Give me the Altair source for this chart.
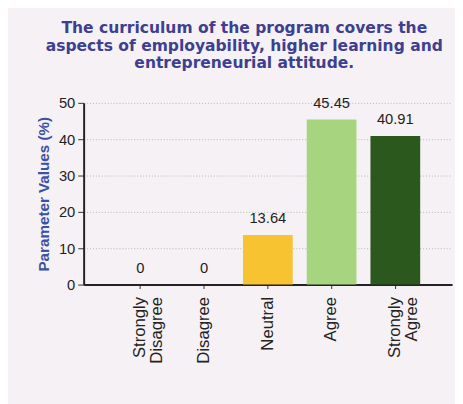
import altair as alt
import pandas as pd

categories = ["Strongly Disagree", "Disagree", "Neutral", "Agree", "Strongly Agree"]
values = [0, 0, 13.64, 45.45, 40.91]
bar_colors = ["#f5c330", "#f5c330", "#f7c331", "#a7d47e", "#2b581d"]
y_ticks = [0, 10, 20, 30, 40, 50]
title_lines = [
    "The curriculum of the program covers the",
    "aspects of employability, higher learning and",
    "entrepreneurial attitude.",
]

df = pd.DataFrame({"cat": categories, "value": values})

x_enc = alt.X(
    "cat:N",
    sort=categories,
    title=None,
    scale=alt.Scale(paddingInner=0.22, paddingOuter=0.5),
    axis=alt.Axis(
        labelAngle=-90,
        labelAlign="right",
        labelBaseline="middle",
        labelExpr="split(datum.label, ' ')",
        labelFont="Liberation Sans",
        labelFontSize=17,
        labelLineHeight=17,
        labelColor="#222222",
        labelPadding=8,
        tickSize=4,
        tickColor="#333333",
        domainColor="#222222",
        domainWidth=2,
        grid=False,
    ),
)
y_enc = alt.Y(
    "value:Q",
    scale=alt.Scale(domain=[0, 50]),
    title="Parameter Values (%)",
    axis=alt.Axis(
        values=y_ticks,
        labelFont="Liberation Sans",
        labelFontSize=15,
        labelColor="#1e1e1e",
        labelPadding=3,
        tickSize=6,
        tickColor="#333333",
        domainColor="#222222",
        domainWidth=2,
        grid=True,
        gridColor="#b8b4b8",
        gridDash=[1, 2],
        gridWidth=1,
        titleFont="Liberation Sans",
        titleFontSize=15.5,
        titleFontWeight="bold",
        titleColor="#3a52a6",
        titlePadding=7,
    ),
)

base = alt.Chart(df).encode(x=x_enc, y=y_enc)

bars = base.mark_bar().encode(
    color=alt.Color(
        "cat:N",
        scale=alt.Scale(domain=categories, range=bar_colors),
        legend=None,
    )
)

labels = base.mark_text(
    baseline="bottom",
    dy=-9,
    font="Liberation Sans",
    fontSize=15,
    color="#1e1e1e",
).encode(text=alt.Text("value:Q", format=".2~f"))

chart = (
    alt.layer(bars, labels)
    .properties(
        width=375,
        height=185,
        autosize=alt.AutoSizeParams(type="none"),
        padding={"left": 77, "top": 93, "right": 3, "bottom": 118},
        background="#f6f1f4",
        title=alt.TitleParams(
            text=title_lines,
            font="DejaVu Sans",
            fontWeight="bold",
            fontSize=15.8,
            lineHeight=18,
            color="#3d3f91",
            anchor="middle",
            dx=-24,
            offset=24,
        ),
    )
    .configure_view(stroke=None)
)

chart.save("out.html", embed_options={"renderer": "svg", "actions": False})
